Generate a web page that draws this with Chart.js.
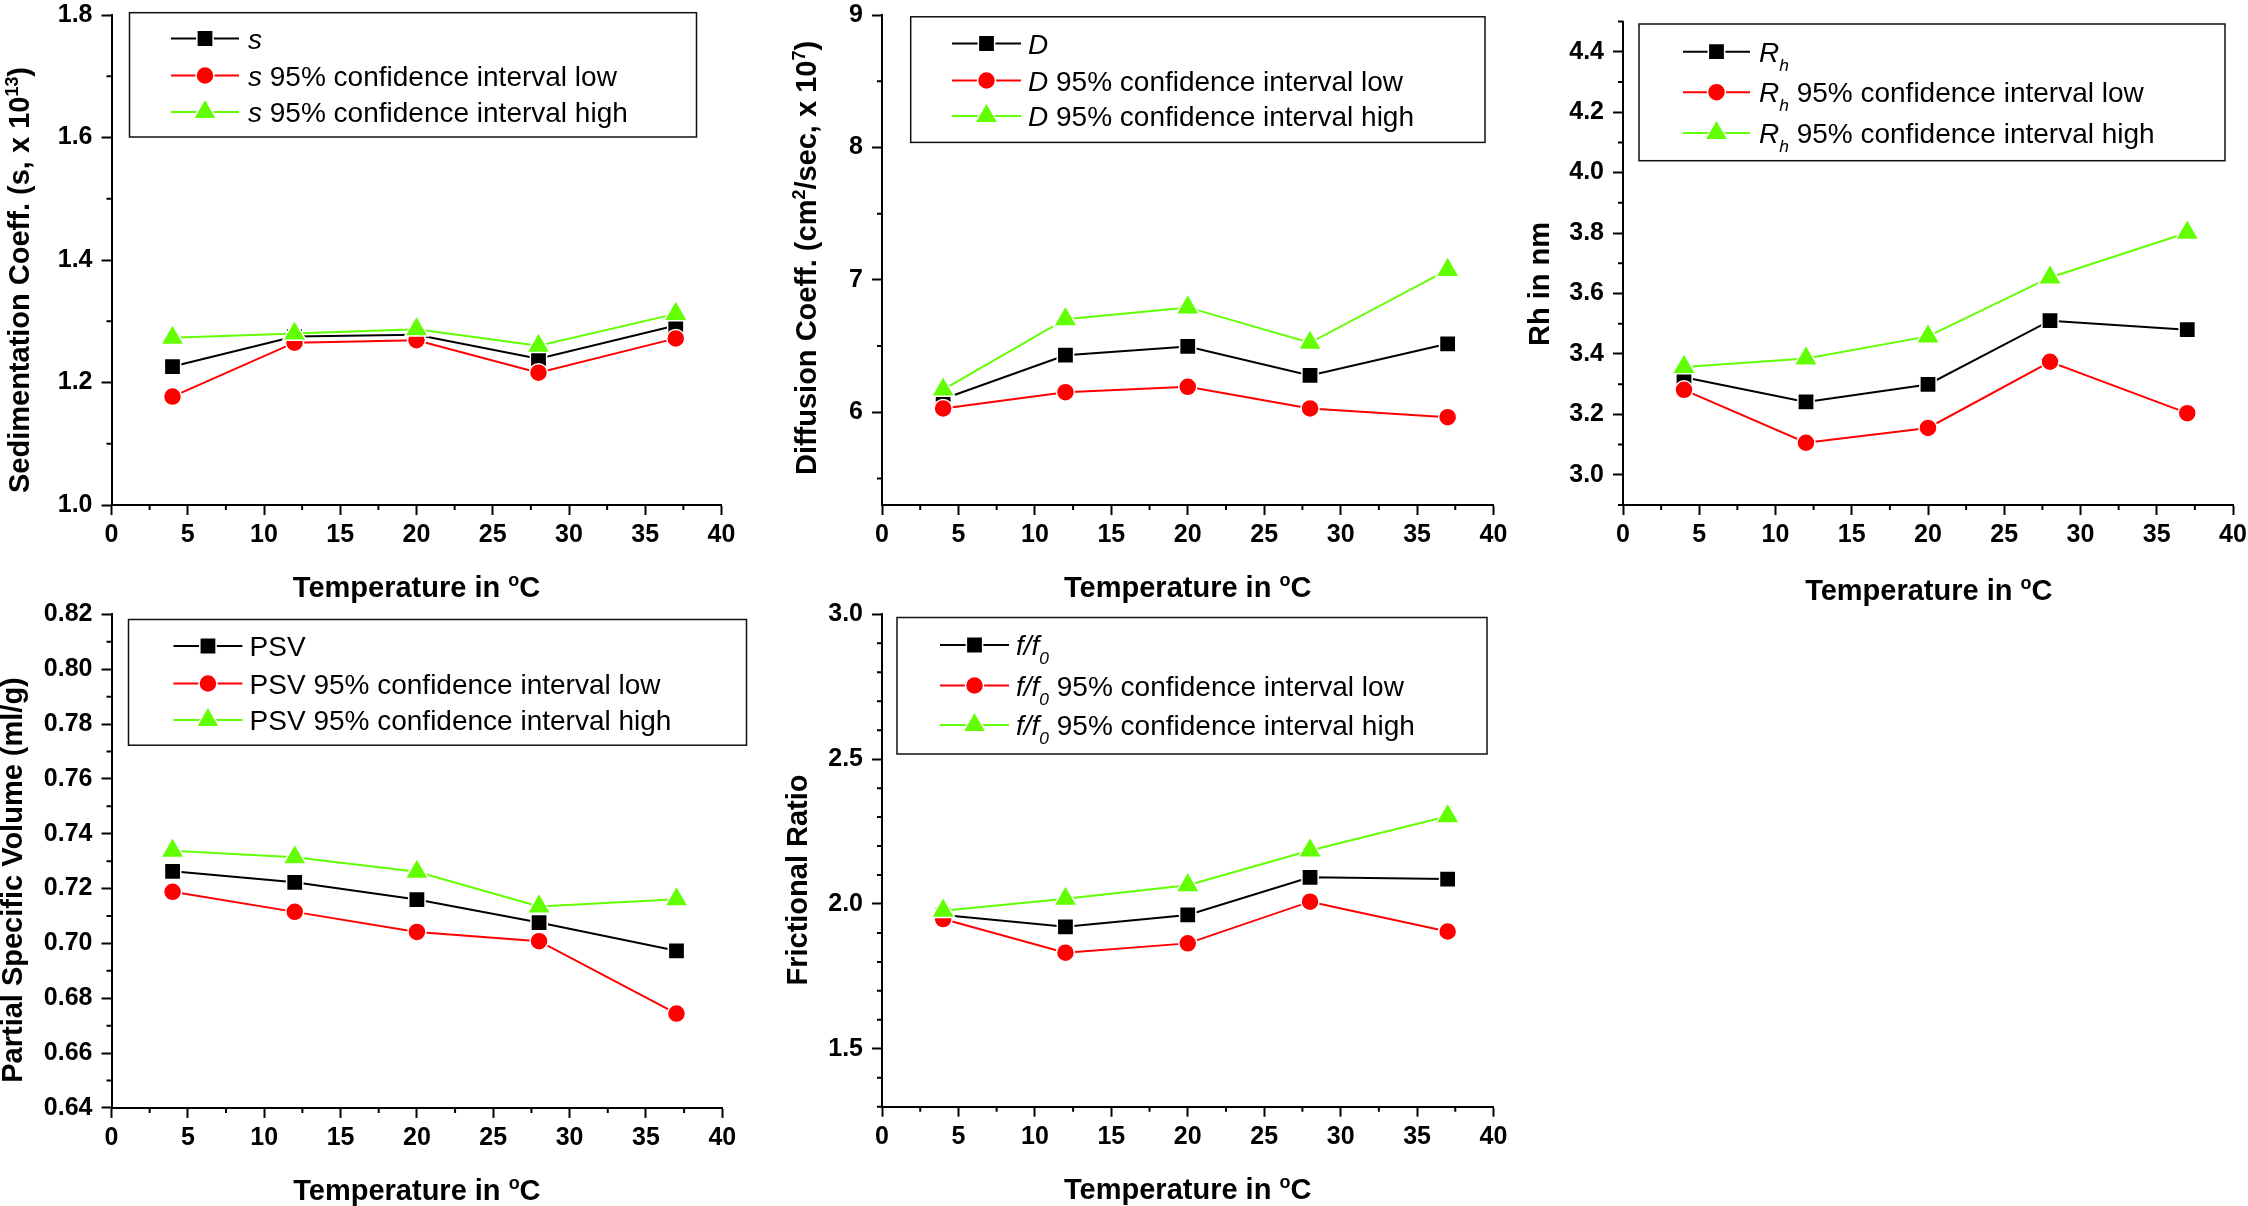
<!DOCTYPE html>
<html>
<head>
<meta charset="utf-8">
<title>Hydrodynamic parameters vs temperature</title>
<script src="https://cdn.jsdelivr.net/npm/chart.js@4.4.1/dist/chart.umd.min.js"></script>
<style>
  html, body { margin: 0; padding: 0; background: #fff; }
  #wrap { position: relative; width: 2248px; height: 1206px; overflow: hidden; background: #fff; }
  #wrap canvas { position: absolute; left: 0; top: 0; }
</style>
</head>
<body>
<div id="wrap">
  <canvas id="sed" width="2248" height="1206"></canvas>
  <canvas id="diff" width="2248" height="1206"></canvas>
  <canvas id="rh" width="2248" height="1206"></canvas>
  <canvas id="psv" width="2248" height="1206"></canvas>
  <canvas id="fr" width="2248" height="1206"></canvas>
</div>
<script>
// Temperaturas medidas (°C) e marcas do eixo x
const temperatures = [4, 12, 20, 28, 37];
const tempTicks = [0, 5, 10, 15, 20, 25, 30, 35, 40];

// Sedimentation coefficient (s, x 10^13)
const sedValues = [1.226, 1.275, 1.278, 1.239, 1.293];
const sedLow = [1.177, 1.265, 1.269, 1.216, 1.272];
const sedHigh = [1.273, 1.280, 1.287, 1.260, 1.312];
const sedTicks = [1.0, 1.2, 1.4, 1.6, 1.8];

// Diffusion coefficient (cm2/sec, x 10^7)
const diffValues = [6.100, 6.431, 6.497, 6.278, 6.517];
const diffLow = [6.029, 6.152, 6.192, 6.029, 5.963];
const diffHigh = [6.172, 6.703, 6.792, 6.525, 7.075];
const diffTicks = [6, 7, 8, 9];

// Hydrodynamic radius (nm)
const rhValues = [3.323, 3.241, 3.299, 3.510, 3.480];
const rhLow = [3.281, 3.106, 3.155, 3.374, 3.204];
const rhHigh = [3.357, 3.385, 3.458, 3.653, 3.801];
const rhTicks = [3.0, 3.2, 3.4, 3.6, 3.8, 4.0, 4.2, 4.4];

// Partial specific volume (ml/g)
const psvValues = [0.7263, 0.7223, 0.7160, 0.7076, 0.6973];
const psvLow = [0.7188, 0.7115, 0.7042, 0.7008, 0.6744];
const psvHigh = [0.7338, 0.7314, 0.7261, 0.7135, 0.7161];
const psvTicks = [0.64, 0.66, 0.68, 0.70, 0.72, 0.74, 0.76, 0.78, 0.80, 0.82];

// Frictional ratio f/f0
const frValues = [1.962, 1.921, 1.962, 2.092, 2.086];
const frLow = [1.948, 1.832, 1.864, 2.008, 1.905];
const frHigh = [1.977, 2.018, 2.065, 2.185, 2.303];
const frTicks = [1.5, 2.0, 2.5, 3.0];

// Legendas (com <i>, <sub>, <sup>)
const ci = [' 95% confidence interval low', ' 95% confidence interval high'];
const sedLabels = ['<i>s</i>', '<i>s</i>' + ci[0], '<i>s</i>' + ci[1]];
const diffLabels = ['<i>D</i>', '<i>D</i>' + ci[0], '<i>D</i>' + ci[1]];
const rhLabels = ['<i>R<sub>h</sub></i>', '<i>R<sub>h</sub></i>' + ci[0], '<i>R<sub>h</sub></i>' + ci[1]];
const psvLabels = ['PSV', 'PSV' + ci[0], 'PSV' + ci[1]];
const frLabels = ['<i>f/f<sub>0</sub></i>', '<i>f/f<sub>0</sub></i>' + ci[0], '<i>f/f<sub>0</sub></i>' + ci[1]];

const xTitle = 'Temperature in <sup>o</sup>C';

const FONT = '"Liberation Sans", Arial, Helvetica, sans-serif';
const W = 2248, H = 1206;
const AXIS_W = 100, AXIS_H = 60;

const colors = ['#000000', '#ff0000', '#62ff00'];
const pointStyles = ['rect', 'circle', 'triangle'];
const pointRadii = [11.5, 9, 13.5];

// Paineis: posicao da area do grafico, titulos e legenda em pixels da pagina
const panels = [
  {
    id: 'sed', series: [sedValues, sedLow, sedHigh], labels: sedLabels, ticks: sedTicks,
    yMin: 1.0, yMax: 1.8, yMinor: 0.1, dec: 1,
    plot: { left: 111.5, top: 12.3, right: 721.5, bottom: 505 },
    yTitle: { text: 'Sedimentation Coeff. (s, x 10<sup>13</sup>)', x: 19, y: 280 },
    xTitleAt: { x: 416.5, y: 587 },
    legend: { box: [129.5, 12.7, 696.5, 137], rows: [38.5, 75.5, 112], lineX: [171, 239], textX: 248 }
  },
  {
    id: 'diff', series: [diffValues, diffLow, diffHigh], labels: diffLabels, ticks: diffTicks,
    yMin: 5.3, yMax: 9, yMinor: 0.5, dec: 0,
    plot: { left: 882, top: 11.5, right: 1493.5, bottom: 505 },
    yTitle: { text: 'Diffusion Coeff. (cm<sup>2</sup>/sec, x 10<sup>7</sup>)', x: 806, y: 258 },
    xTitleAt: { x: 1187.7, y: 587 },
    legend: { box: [910.7, 16.8, 1485, 142.4], rows: [43.5, 80.5, 116], lineX: [952, 1021], textX: 1028 }
  },
  {
    id: 'rh', series: [rhValues, rhLow, rhHigh], labels: rhLabels, ticks: rhTicks,
    yMin: 2.9, yMax: 4.5, yMinor: 0.1, dec: 1,
    plot: { left: 1623, top: 21.5, right: 2234.5, bottom: 505 },
    yTitle: { text: 'Rh in nm', x: 1539, y: 284 },
    xTitleAt: { x: 1928.8, y: 590 },
    legend: { box: [1639, 24, 2225, 160.7], rows: [51.7, 92.2, 133], lineX: [1683, 1750], textX: 1759 }
  },
  {
    id: 'psv', series: [psvValues, psvLow, psvHigh], labels: psvLabels, ticks: psvTicks,
    yMin: 0.64, yMax: 0.82, yMinor: 0.01, dec: 2,
    plot: { left: 111.5, top: 614.4, right: 722.3, bottom: 1107.9 },
    yTitle: { text: 'Partial Specific Volume (ml/g)', x: 12, y: 880 },
    xTitleAt: { x: 416.9, y: 1190 },
    legend: { box: [128.5, 619.5, 746.5, 745.2], rows: [646, 683.5, 720], lineX: [173.5, 242.4], textX: 249.6 }
  },
  {
    id: 'fr', series: [frValues, frLow, frHigh], labels: frLabels, ticks: frTicks,
    yMin: 1.3, yMax: 3.0, yMinor: 0.1, dec: 1,
    plot: { left: 882, top: 614.4, right: 1493.5, bottom: 1106.7 },
    yTitle: { text: 'Frictional Ratio', x: 797, y: 880 },
    xTitleAt: { x: 1187.7, y: 1189 },
    legend: { box: [897, 617.5, 1487, 754], rows: [645, 685.5, 725], lineX: [940, 1009], textX: 1016 }
  }
];

// Texto simples com <i>, <sub>, <sup>
function parseRich(str) {
  const parts = [];
  let italic = false, mode = '';
  str.split(/(<\/?(?:i|sub|sup)>)/).forEach(tok => {
    if (!tok) return;
    if (tok === '<i>') italic = true;
    else if (tok === '</i>') italic = false;
    else if (tok === '<sub>') mode = 'sub';
    else if (tok === '<sup>') mode = 'sup';
    else if (tok === '</sub>' || tok === '</sup>') mode = '';
    else parts.push({ t: tok, i: italic, m: mode });
  });
  return parts;
}

function partFont(p, size, weight) {
  const s = p.m ? size * 0.62 : size;
  return (p.i ? 'italic ' : '') + weight + ' ' + s + 'px ' + FONT;
}

function richWidth(ctx, parts, size, weight) {
  let w = 0;
  parts.forEach(p => { ctx.font = partFont(p, size, weight); w += ctx.measureText(p.t).width; });
  return w;
}

// desenha com a linha de base em y
function drawRich(ctx, parts, x, y, size, weight) {
  let cx = x;
  ctx.textAlign = 'left';
  ctx.textBaseline = 'alphabetic';
  parts.forEach(p => {
    ctx.font = partFont(p, size, weight);
    const dy = p.m === 'sup' ? -size * 0.40 : (p.m === 'sub' ? size * 0.33 : 0);
    ctx.fillText(p.t, cx, y + dy);
    cx += ctx.measureText(p.t).width;
  });
}

function decorPlugin(p) {
  return {
    id: 'decor',
    afterDraw(chart) {
      const ctx = chart.ctx;
      const xs = chart.scales.x, ys = chart.scales.y;
      const area = chart.chartArea;
      ctx.save();

      // ticks menores
      ctx.strokeStyle = '#000';
      ctx.lineWidth = 2;
      ctx.beginPath();
      for (let k = 1; k * 2.5 < 40; k++) {
        if (k % 2 === 0) continue;
        const px = xs.getPixelForValue(k * 2.5);
        ctx.moveTo(px, area.bottom);
        ctx.lineTo(px, area.bottom + 5);
      }
      const kStart = Math.ceil(p.yMin / p.yMinor - 1e-6), kEnd = Math.floor(p.yMax / p.yMinor + 1e-6);
      for (let k = kStart; k <= kEnd; k++) {
        const v = k * p.yMinor;
        if (p.ticks.some(t => Math.abs(t - v) < p.yMinor / 10)) continue;
        const py = ys.getPixelForValue(v);
        ctx.moveTo(area.left, py);
        ctx.lineTo(area.left - 5, py);
      }
      ctx.stroke();

      // titulos dos eixos
      ctx.fillStyle = '#000';
      const tSize = 29;
      const xParts = parseRich(xTitle);
      const xw = richWidth(ctx, xParts, tSize, 'bold');
      drawRich(ctx, xParts, p.xTitleAt.x - xw / 2, p.xTitleAt.y + tSize * 0.358, tSize, 'bold');

      const yParts = parseRich(p.yTitle.text);
      const yw = richWidth(ctx, yParts, tSize, 'bold');
      ctx.save();
      ctx.translate(p.yTitle.x, p.yTitle.y);
      ctx.rotate(-Math.PI / 2);
      drawRich(ctx, yParts, -yw / 2, tSize * 0.358, tSize, 'bold');
      ctx.restore();

      // legenda
      const L = p.legend;
      const lSize = 28;
      ctx.strokeStyle = '#111';
      ctx.lineWidth = 1.5;
      ctx.strokeRect(L.box[0], L.box[1], L.box[2] - L.box[0], L.box[3] - L.box[1]);
      chart.data.datasets.forEach((ds, i) => {
        const y = L.rows[i];
        ctx.strokeStyle = ds.borderColor;
        ctx.lineWidth = ds.borderWidth;
        ctx.beginPath();
        ctx.moveTo(L.lineX[0], y);
        ctx.lineTo(L.lineX[1], y);
        ctx.stroke();
        ctx.fillStyle = ds.pointBackgroundColor;
        ctx.strokeStyle = ds.pointBorderColor;
        ctx.lineWidth = ds.pointBorderWidth;
        Chart.helpers.drawPoint(ctx, {
          pointStyle: ds.pointStyle, radius: ds.pointRadius, rotation: 0, borderWidth: ds.pointBorderWidth
        }, (L.lineX[0] + L.lineX[1]) / 2, y);
        ctx.fillStyle = '#000';
        drawRich(ctx, parseRich(ds.label), L.textX, y + lSize * 0.358, lSize, 'normal');
      });
      ctx.restore();
    }
  };
}

function zeroPadding(scale) {
  scale.paddingLeft = 0;
  scale.paddingRight = 0;
  scale.paddingTop = 0;
  scale.paddingBottom = 0;
}

const tickFont = { family: FONT, size: 25, weight: 'bold' };
const axisGrid = { drawOnChartArea: false, drawTicks: true, tickLength: 10, tickWidth: 2, tickColor: '#000', color: '#000' };
const axisBorder = { display: true, color: '#000', width: 2 };

panels.forEach(p => {
  const datasets = p.series.map((vals, i) => ({
    label: p.labels[i],
    data: temperatures.map((t, j) => ({ x: t, y: vals[j] })),
    borderColor: colors[i],
    backgroundColor: colors[i],
    pointBackgroundColor: colors[i],
    pointBorderColor: '#ffffff',
    pointBorderWidth: 1.5,
    pointRadius: pointRadii[i],
    pointStyle: pointStyles[i],
    borderWidth: 2,
    tension: 0,
    order: 3 - i,
    clip: false
  }));

  new Chart(document.getElementById(p.id), {
    type: 'line',
    data: { datasets },
    options: {
      responsive: false,
      animation: false,
      events: [],
      layout: {
        padding: {
          left: p.plot.left - AXIS_W,
          top: p.plot.top,
          right: W - p.plot.right,
          bottom: H - p.plot.bottom - AXIS_H
        }
      },
      plugins: { legend: { display: false }, tooltip: { enabled: false } },
      scales: {
        x: {
          type: 'linear',
          position: 'bottom',
          min: 0,
          max: 40,
          afterBuildTicks: s => { s.ticks = tempTicks.map(v => ({ value: v })); },
          afterFit: s => { s.height = AXIS_H; zeroPadding(s); },
          ticks: { font: tickFont, color: '#000', padding: 5, maxRotation: 0, autoSkip: false, callback: v => String(v) },
          grid: axisGrid,
          border: axisBorder
        },
        y: {
          type: 'linear',
          position: 'left',
          min: p.yMin,
          max: p.yMax,
          afterBuildTicks: s => { s.ticks = p.ticks.map(v => ({ value: v })); },
          afterFit: s => { s.width = AXIS_W; zeroPadding(s); },
          ticks: { font: tickFont, color: '#000', padding: 9, autoSkip: false, callback: v => Number(v).toFixed(p.dec) },
          grid: axisGrid,
          border: axisBorder
        }
      }
    },
    plugins: [decorPlugin(p)]
  });
});
</script>
</body>
</html>
